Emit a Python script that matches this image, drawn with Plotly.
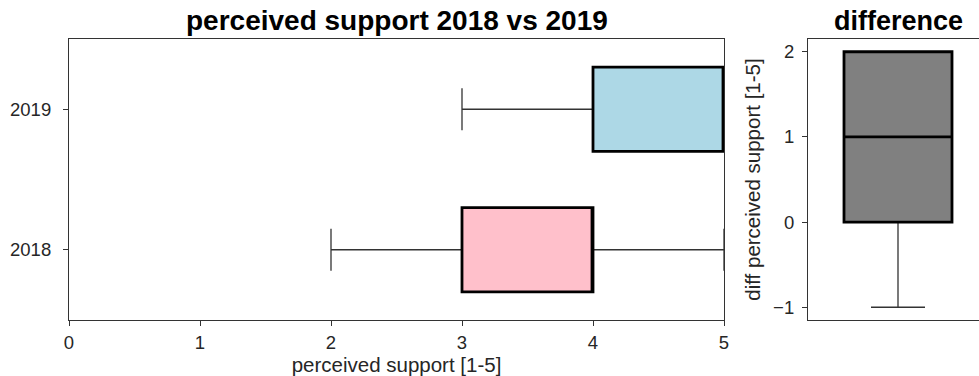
import plotly.graph_objects as go

# Summary statistics of perceived support (scale 1-5)
years = ["2018", "2019"]
year_pos = [1, 2]
year_colors = ["#FFC0CB", "#ADD8E6"]
q1 = [3, 4]
median = [4, 5]
q3 = [4, 5]
lower = [2, 3]
upper = [5, 5]

# Difference 2019 - 2018
diff_q1 = [0]
diff_median = [1]
diff_q3 = [2]
diff_lower = [-1]
diff_upper = [2]

FONT = "Liberation Sans, Arial, Helvetica, sans-serif"
AX = "#333333"
TXT = "#262626"

fig = go.Figure()


def add_box(pos, q1v, medv, q3v, lo, hi, color, xa, ya, horizontal):
    common = dict(q1=[q1v], median=[medv], q3=[q3v], width=0.6,
                  fillcolor=color, showlegend=False, hoverinfo="skip",
                  xaxis=xa, yaxis=ya, boxpoints=False)
    if horizontal:
        common.update(orientation="h", y=[pos])
    else:
        common.update(x=[pos])
    # thin whiskers and caps
    fig.add_trace(go.Box(lowerfence=[lo], upperfence=[hi], whiskerwidth=0.5,
                         line=dict(color=AX, width=1.3), **common))
    # heavy box outline and median on top
    fig.add_trace(go.Box(lowerfence=[q1v], upperfence=[q3v], whiskerwidth=0,
                         line=dict(color="black", width=2.8), **common))


for i in range(len(years)):
    add_box(year_pos[i], q1[i], median[i], q3[i], lower[i], upper[i],
            year_colors[i], "x", "y", True)

add_box(0, diff_q1[0], diff_median[0], diff_q3[0], diff_lower[0], diff_upper[0],
        "#808080", "x2", "y2", False)

W, H = 979, 376
L, R, T, B = 69, 0, 39, 56
pw = W - L - R


def dom(a, b):
    return [(a - L) / pw, (b - L) / pw]


TICK = 18.5
LAB = 20.5
axis_common = dict(showline=True, linecolor=AX, linewidth=1.2, ticks="outside",
                   tickcolor=AX, ticklen=5, tickwidth=1.2, showgrid=False,
                   zeroline=False, automargin=False,
                   tickfont=dict(family=FONT, size=TICK, color=TXT))

diff_xrange = [-0.5, -0.5 + 171 / 180]
bare_x = dict(domain=dom(808, 979), range=diff_xrange, showline=True,
              linecolor=AX, linewidth=1.2, mirror=False, showticklabels=False,
              ticks="", showgrid=False, zeroline=False, automargin=False,
              anchor="y2")

fig.update_layout(
    width=W, height=H,
    margin=dict(l=L, r=R, t=T, b=B, autoexpand=False),
    paper_bgcolor="white", plot_bgcolor="white",
    font=dict(family=FONT, color=TXT),
    xaxis=dict(domain=dom(69, 724), range=[0, 5], tickvals=[0, 1, 2, 3, 4, 5],
               mirror=True, anchor="y", ticklabelstandoff=1,
               title=dict(text="perceived support [1-5]", standoff=0,
                          font=dict(family=FONT, size=LAB, color=TXT)),
               **axis_common),
    yaxis=dict(range=[0.5, 2.5], tickvals=year_pos, ticktext=years,
               mirror=True, anchor="x", ticklabelstandoff=8, **axis_common),
    xaxis2=dict(**bare_x),
    # top frame line of the difference panel
    xaxis3=dict(**bare_x, side="top", overlaying="x2"),
    yaxis2=dict(range=[-1.15, 2.15], tickvals=[-1, 0, 1, 2],
                ticktext=["\u22121", "0", "1", "2"], anchor="x2", mirror=False,
                ticklabelstandoff=4,
                title=dict(text="diff perceived support [1-5]", standoff=6,
                           font=dict(family=FONT, size=LAB, color=TXT)),
                **axis_common),
    annotations=[
        dict(text="<b>perceived support 2018 vs 2019</b>", xref="paper",
             yref="paper", x=sum(dom(69, 724)) / 2, y=1, yshift=1,
             xanchor="center", yanchor="bottom", showarrow=False,
             font=dict(family=FONT, size=28, color="black")),
        dict(text="<b>difference</b>", xref="paper", yref="paper",
             x=(898 - L) / pw, y=1, yshift=1, xanchor="center",
             yanchor="bottom", showarrow=False,
             font=dict(family=FONT, size=27, color="black")),
    ],
)

# an invisible trace keeps the top axis drawn
fig.add_trace(go.Scatter(x=[], y=[], xaxis="x3", yaxis="y2", showlegend=False))

fig.write_html("out.html")
